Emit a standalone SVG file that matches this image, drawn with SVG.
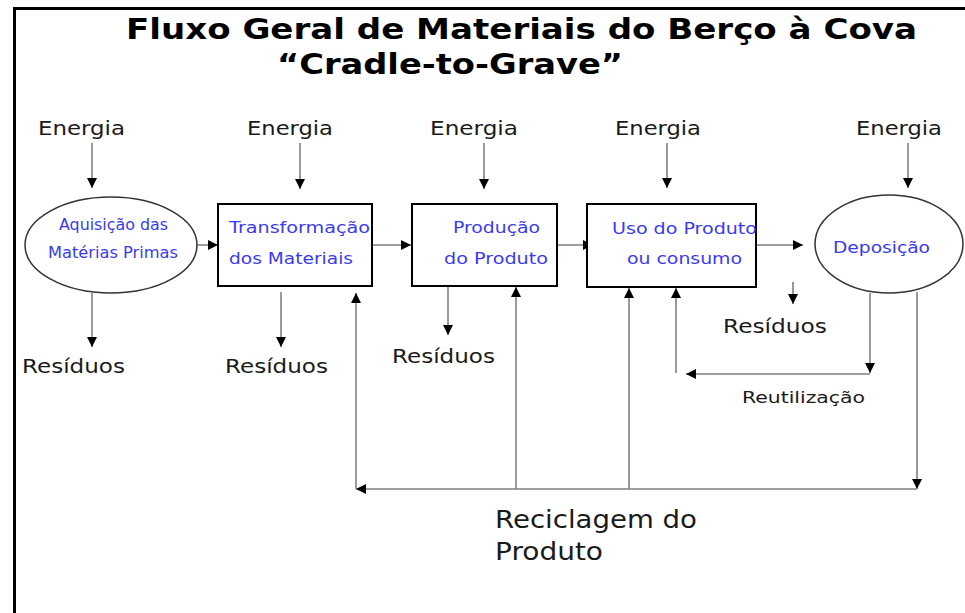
<svg xmlns="http://www.w3.org/2000/svg" width="965" height="613" viewBox="0 0 965 613">
<defs>
<marker id="ah" viewBox="0 0 10 10" refX="10" refY="5" markerWidth="10" markerHeight="10" markerUnits="userSpaceOnUse" orient="auto">
<path d="M0,0 L10,5 L0,10 z" fill="#000"/>
</marker>
<style>
.t{font-family:"DejaVu Sans","Liberation Sans",sans-serif;fill:#1a1a1a}
.title{font-family:"DejaVu Sans","Liberation Sans",sans-serif;font-weight:bold;font-size:29px;fill:#000}
.lbl{font-size:19px}
.blue{font-family:"DejaVu Sans","Liberation Sans",sans-serif;fill:#3a3af0;font-size:16px}
.box{fill:#fff;stroke:#000;stroke-width:2}
.ell{fill:#fff;stroke:#333;stroke-width:1.5}
.c{fill:none;stroke:#808080;stroke-width:1.6}
.a{marker-end:url(#ah)}
</style>
</defs>
<rect width="965" height="613" fill="#fff"/>
<g id="frame">
<line x1="14.5" y1="8" x2="14.5" y2="613" stroke="#000" stroke-width="3"/>
<line x1="13" y1="8.5" x2="965" y2="8.5" stroke="#000" stroke-width="3"/>
</g>
<g id="title">
<text class="title" x="126" y="39" textLength="791" lengthAdjust="spacingAndGlyphs">Fluxo Geral de Materiais do Berço à Cova</text>
<text class="title" x="277" y="74" textLength="346" lengthAdjust="spacingAndGlyphs">“Cradle-to-Grave”</text>
</g>
<g id="connectors">
<line class="c a" x1="92" y1="143" x2="92" y2="188"/>
<line class="c a" x1="300" y1="143" x2="300" y2="189"/>
<line class="c a" x1="484" y1="143" x2="484" y2="189"/>
<line class="c a" x1="667" y1="143" x2="667" y2="188"/>
<line class="c a" x1="908" y1="143" x2="908" y2="188"/>
<line class="c a" x1="180" y1="245" x2="218" y2="245"/>
<line class="c a" x1="363" y1="245" x2="411" y2="245"/>
<line class="c a" x1="557" y1="245" x2="593" y2="245"/>
<line class="c a" x1="757" y1="245" x2="803" y2="245"/>
<line class="c a" x1="92" y1="293" x2="92" y2="347"/>
<line class="c a" x1="281" y1="292" x2="281" y2="347"/>
<line class="c a" x1="448" y1="287" x2="448" y2="335"/>
<line class="c a" x1="793" y1="282" x2="793" y2="304"/>
<line class="c a" x1="870" y1="293" x2="870" y2="373"/>
<line class="c a" x1="870" y1="374" x2="686" y2="374"/>
<line class="c a" x1="676" y1="373" x2="676" y2="288"/>
<line class="c a" x1="917" y1="292" x2="917" y2="489"/>
<line class="c a" x1="917" y1="489" x2="356" y2="489"/>
<line class="c a" x1="356" y1="489" x2="356" y2="293"/>
<line class="c a" x1="516" y1="489" x2="516" y2="287"/>
<line class="c a" x1="629" y1="489" x2="629" y2="288"/>
</g>
<g id="n-aquisicao">
<ellipse class="ell" cx="111" cy="245" rx="86" ry="48"/>
<text class="blue" x="59" y="230" font-size="14" textLength="109" lengthAdjust="spacingAndGlyphs">Aquisição das</text>
<text class="blue" x="48" y="258" font-size="14" textLength="130" lengthAdjust="spacingAndGlyphs">Matérias Primas</text>
</g>
<g id="n-transformacao">
<rect class="box" x="218" y="204" width="154" height="82"/>
<text class="blue" x="229" y="233" textLength="141" lengthAdjust="spacingAndGlyphs">Transformação</text>
<text class="blue" x="229" y="264" textLength="124" lengthAdjust="spacingAndGlyphs">dos Materiais</text>
</g>
<g id="n-producao">
<rect class="box" x="412" y="204" width="145" height="82"/>
<text class="blue" x="453" y="233" textLength="87" lengthAdjust="spacingAndGlyphs">Produção</text>
<text class="blue" x="444" y="264" textLength="104" lengthAdjust="spacingAndGlyphs">do Produto</text>
</g>
<g id="n-uso">
<rect class="box" x="587" y="204" width="169" height="83"/>
<text class="blue" x="612" y="234" textLength="145" lengthAdjust="spacingAndGlyphs">Uso do Produto</text>
<text class="blue" x="627" y="264" textLength="115" lengthAdjust="spacingAndGlyphs">ou consumo</text>
</g>
<g id="n-deposicao">
<ellipse class="ell" cx="889" cy="244" rx="74" ry="49"/>
<text class="blue" x="833" y="253" textLength="97" lengthAdjust="spacingAndGlyphs">Deposição</text>
</g>
<g id="labels">
<text class="t lbl" x="38" y="135" textLength="87" lengthAdjust="spacingAndGlyphs">Energia</text>
<text class="t lbl" x="247" y="135" textLength="86" lengthAdjust="spacingAndGlyphs">Energia</text>
<text class="t lbl" x="430" y="135" textLength="88" lengthAdjust="spacingAndGlyphs">Energia</text>
<text class="t lbl" x="615" y="135" textLength="86" lengthAdjust="spacingAndGlyphs">Energia</text>
<text class="t lbl" x="856" y="135" textLength="86" lengthAdjust="spacingAndGlyphs">Energia</text>
<text class="t lbl" x="22" y="373" textLength="103" lengthAdjust="spacingAndGlyphs">Resíduos</text>
<text class="t lbl" x="225" y="373" textLength="103" lengthAdjust="spacingAndGlyphs">Resíduos</text>
<text class="t lbl" x="392" y="363" textLength="103" lengthAdjust="spacingAndGlyphs">Resíduos</text>
<text class="t lbl" x="723" y="333" textLength="104" lengthAdjust="spacingAndGlyphs">Resíduos</text>
<text class="t" x="742" y="403" font-size="16" textLength="123" lengthAdjust="spacingAndGlyphs">Reutilização</text>
<text class="t" x="495" y="528" font-size="24" textLength="202" lengthAdjust="spacingAndGlyphs">Reciclagem do</text>
<text class="t" x="495" y="560" font-size="24" textLength="108" lengthAdjust="spacingAndGlyphs">Produto</text>
</g>
</svg>
